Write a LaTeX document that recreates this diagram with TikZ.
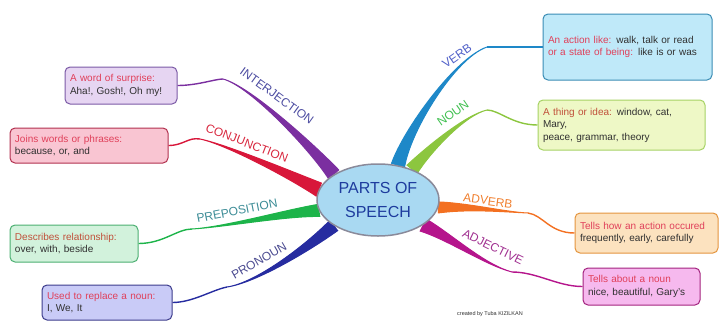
\documentclass[tikz,border=0pt]{standalone}
\usepackage{fontspec}
\setmainfont{Liberation Sans}
\usetikzlibrary{shapes.geometric, calc, backgrounds}

\definecolor{intjcol}{HTML}{7B2FA0}
\definecolor{conjcol}{HTML}{D8173A}
\definecolor{prepcol}{HTML}{1DB44A}
\definecolor{proncol}{HTML}{262CA0}
\definecolor{verbcol}{HTML}{1E88C8}
\definecolor{nouncol}{HTML}{8CC63F}
\definecolor{advcol}{HTML}{F37021}
\definecolor{adjcol}{HTML}{B5158C}

\definecolor{intjtag}{HTML}{4B4BA0}
\definecolor{conjtag}{HTML}{D8283F}
\definecolor{preptag}{HTML}{3C8C96}
\definecolor{prontag}{HTML}{4A4A90}
\definecolor{verbtag}{HTML}{5060C8}
\definecolor{nountag}{HTML}{40C050}
\definecolor{advtag}{HTML}{F08030}
\definecolor{adjtag}{HTML}{A03090}

\definecolor{intjfill}{HTML}{E6D5F2}\definecolor{intjline}{HTML}{7B5AA6}
\definecolor{conjfill}{HTML}{F9C5D2}\definecolor{conjline}{HTML}{B2304E}
\definecolor{prepfill}{HTML}{D2F2DC}\definecolor{prepline}{HTML}{4CAF72}
\definecolor{pronfill}{HTML}{C9CBF7}\definecolor{pronline}{HTML}{3C3C8C}
\definecolor{verbfill}{HTML}{BFE9F9}\definecolor{verbline}{HTML}{3A8CB4}
\definecolor{nounfill}{HTML}{EEF8C6}\definecolor{nounline}{HTML}{A6D264}
\definecolor{advfill}{HTML}{FCE2BF}\definecolor{advline}{HTML}{E4953E}
\definecolor{adjfill}{HTML}{F6B9EE}\definecolor{adjline}{HTML}{A3237F}

\definecolor{hubfill}{HTML}{A9D9F2}
\definecolor{hubline}{HTML}{8A8A9A}
\definecolor{hubtext}{HTML}{1E3C9E}
\definecolor{cue}{HTML}{E0405A}
\definecolor{cuebrown}{HTML}{C0503A}
\definecolor{body}{HTML}{303030}

% thick branch that narrows from the hub out to a joint
\newcommand{\taper}[6]{%
  \filldraw[#1, line width=1pt] ($(#2)+#6$) .. controls ($(#3)+0.5*#6$) and (#4) .. (#5)
    .. controls (#4) and ($(#3)-0.5*#6$) .. ($(#2)-#6$) -- cycle;}

\begin{document}
\begin{tikzpicture}[x=1pt, y=-1pt]
		\tikzstyle{card}=[rectangle, rounded corners=5pt, draw, line width=1pt, inner sep=5pt, align=left, text=body, font=\fontsize{10}{12.5}\selectfont]
		\tikzstyle{tag}=[inner sep=0pt, font=\fontsize{12}{12}\selectfont]
		\tikzstyle{twig}=[line width=1.4pt]

		\useasboundingbox (0,0) rectangle (721,322);

		\node[ellipse, draw=hubline, fill=hubfill, line width=1.5pt, minimum width=122pt, minimum height=72pt,
			align=center, text=hubtext, font=\fontsize{16}{24}\selectfont] (hub) at (378,200) {PARTS OF\\SPEECH};

		\node[card, fill=intjfill, draw=intjline, text width=102pt, minimum height=37pt] (intj) at (121,85.5) {
			\textcolor{cue}{A word of surprise:}\\Aha!, Gosh!, Oh my!
		};
		\node[card, fill=conjfill, draw=conjline, text width=148pt, minimum height=35pt] (conj) at (89,145.5) {
			\textcolor{cue}{Joins words or phrases:}\\because, or, and
		};
		\node[card, fill=prepfill, draw=prepline, text width=118pt, minimum height=37pt] (prep) at (74,243.5) {
			\textcolor{cuebrown}{Describes relationship:}\\over, with, beside
		};
		\node[card, fill=pronfill, draw=pronline, text width=120pt, minimum height=35pt] (pron) at (107,302.5) {
			\textcolor{cue}{Used to replace a noun:}\\I, We, It
		};
		\node[card, fill=verbfill, draw=verbline, text width=159pt, minimum height=66pt] (verb) at (627.5,47) {
			\textcolor{cue}{An action like:} walk, talk or read\\\textcolor{cue}{or a state of being:} like is or was
		};
		\node[card, fill=nounfill, draw=nounline, text width=157pt, minimum height=50pt] (noun) at (621.5,125) {
			\textcolor{cuebrown}{A thing or idea:} window, cat,\\Mary,\\peace, grammar, theory
		};
		\node[card, fill=advfill, draw=advline, text width=133pt, minimum height=40pt] (adv) at (646.5,233) {
			\textcolor{cue}{Tells how an action occured}\\frequently, early, carefully
		};
		\node[card, fill=adjfill, draw=adjline, text width=107pt, minimum height=37pt] (adj) at (641.5,286.5) {
			\textcolor{cue}{Tells about a noun}\\nice, beautiful, Gary's
		};

		\coordinate (j1) at (223,79);
		\coordinate (j2) at (200,139);
		\coordinate (j3) at (192,229);
		\coordinate (j4) at (227,287);
		\coordinate (j5) at (487,47);
		\coordinate (j6) at (487,110);
		\coordinate (j7) at (528,213);
		\coordinate (j8) at (512,272);

		\begin{scope}[on background layer]
			\taper{intjcol}{hub.150}{313,148}{250,86}{j1}{(5,-4.5)}
			\taper{conjcol}{hub.170}{291,175}{225,144}{j2}{(2.6,-6.5)}
			\taper{prepcol}{hub.190}{285,213}{225,227}{j3}{(1,6)}
			\taper{proncol}{hub.210}{305,250}{255,283}{j4}{(4,5)}
			\taper{verbcol}{hub.60}{407,130}{455,58}{j5}{(6.5,2)}
			\taper{nouncol}{hub.42}{428,150}{465,115}{j6}{(5,4.2)}
			\taper{advcol}{hub.353}{470,206}{505,212}{j7}{(0,5.5)}
			\taper{adjcol}{hub.331}{450,237}{485,265}{j8}{(-3,6)}

			\draw[twig, intjcol] (j1) .. controls +(-8,0) and +(20,0) .. (intj.east);
			\draw[twig, conjcol] (j2) .. controls +(-12,-2) and +(15,0) .. (conj.east);
			\draw[twig, prepcol] (j3) .. controls +(-15,0) and +(25,0) .. (prep.east);
			\draw[twig, proncol] (j4) .. controls +(-15,3) and +(20,0) .. (pron.east);
			\draw[twig, verbcol] (j5) -- (verb.west);
			\draw[twig, nouncol] (j6) .. controls +(12,0) and +(-25,0) .. (noun.west);
			\draw[twig, advcol] (j7) .. controls +(15,2) and +(-25,0) .. (adv.west);
			\draw[twig, adjcol] (j8) .. controls +(25,0) and +(-25,0) .. (adj.west);
		\end{scope}

		\node[tag, text=intjtag, rotate=-36] (lintj) at (277,96) {INTERJECTION};
		\node[tag, text=conjtag, rotate=-21] (lconj) at (247,143) {CONJUNCTION};
		\node[tag, text=preptag, rotate=11] (lprep) at (237,211) {PREPOSITION};
		\node[tag, text=prontag, rotate=30] (lpron) at (259,261) {PRONOUN};
		\node[tag, text=verbtag, rotate=35] (lverb) at (457,56) {VERB};
		\node[tag, text=nountag, rotate=35] (lnoun) at (453,113) {NOUN};
		\node[tag, text=advtag, rotate=-8] (ladv) at (488,201) {ADVERB};
		\node[tag, text=adjtag, rotate=-26] (ladj) at (493,247) {ADJECTIVE};

		\node[inner sep=0pt, text=body, font=\fontsize{5.5}{6}\selectfont] (credit) at (490,314) {created by Tuba KIZILKAN};

	\end{tikzpicture}
\end{document}
